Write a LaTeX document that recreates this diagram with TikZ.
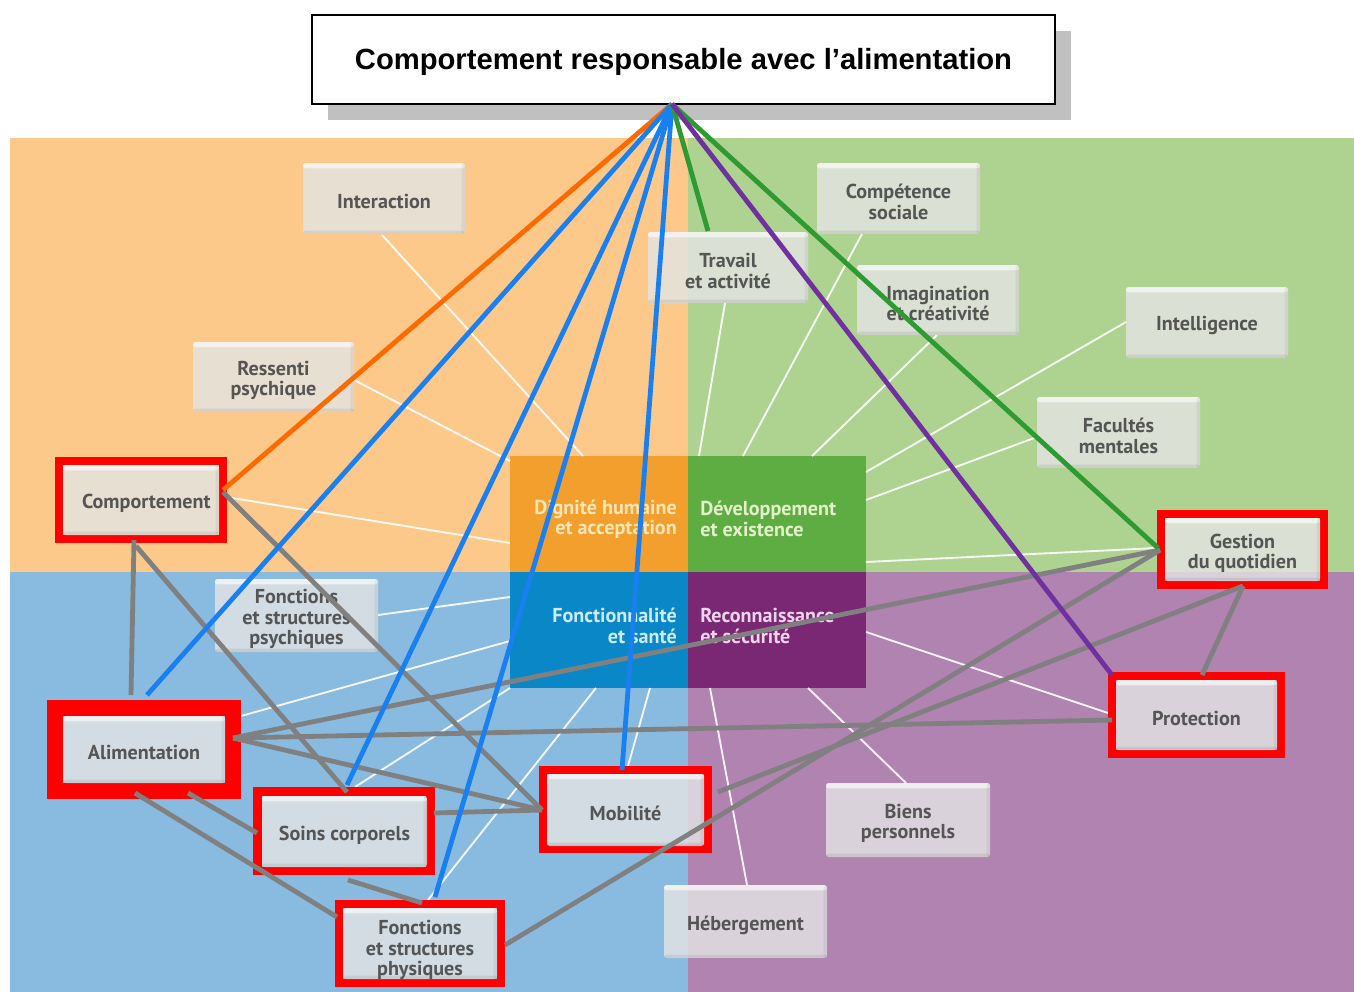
\documentclass[tikz,border=0pt]{standalone}
\usepackage{fontspec}
\setmainfont{PT Sans}
\newfontfamily\titlefont{Liberation Sans}
\definecolor{bgO}{HTML}{FDC98A}
\definecolor{bgG}{HTML}{AED28F}
\definecolor{bgB}{HTML}{89BBE0}
\definecolor{bgP}{HTML}{B083B0}
\definecolor{sqO}{HTML}{F39F2E}
\definecolor{sqG}{HTML}{5DAD42}
\definecolor{sqB}{HTML}{0A87C6}
\definecolor{sqP}{HTML}{7A2873}
\definecolor{txO}{HTML}{FCE5B5}
\definecolor{txG}{HTML}{E4F0CC}
\definecolor{txB}{HTML}{CDEBF7}
\definecolor{txP}{HTML}{EFD3EC}
\definecolor{lbltext}{HTML}{555555}
\definecolor{boxgray}{HTML}{E4E4E4}
\definecolor{redfr}{HTML}{FF0000}
\definecolor{lnorange}{HTML}{FF6A00}
\definecolor{lnblue}{HTML}{1A80F0}
\definecolor{lngreen}{HTML}{2E9A32}
\definecolor{lnpurple}{HTML}{7030A0}
\definecolor{lngray}{HTML}{808080}
\definecolor{shadowgray}{HTML}{C0C0C0}
\newcommand\lblfont{\fontsize{15.1pt}{15.2pt}\selectfont\bfseries}
\tikzset{
  bx/.style 2 args={minimum width=#1*0.75pt, minimum height=#2*0.75pt},
  lbl/.style={fill=boxgray, fill opacity=0.82, text opacity=1, text=lbltext,
    rounded corners=2pt, inner sep=0pt, align=center, font=\lblfont,
    path picture={
      \fill[white,opacity=0.6] (path picture bounding box.north west) rectangle ([yshift=-4pt]path picture bounding box.north east);
      \fill[black,opacity=0.07] (path picture bounding box.south west) rectangle ([yshift=2.5pt]path picture bounding box.south east);
      \fill[black,opacity=0.05] (path picture bounding box.north east) rectangle ([xshift=-2.5pt]path picture bounding box.south east);}},
  lbltxt/.style={text=lbltext, text opacity=1, fill opacity=1, inner sep=0pt, align=center, font=\lblfont},
  txt/.style={label={[lbltxt,yshift=-2.6pt]center:{#1}}},
  ctext/.style={inner sep=0pt, font=\lblfont},
  spoke/.style={white, opacity=0.9, line width=1.4pt},
  redframe/.style={draw=redfr, line width=#1*0.75pt},
  grayln/.style={lngray, line width=3.6pt},
  colln/.style={line width=3.6pt, draw=#1}
}
\begin{document}
\begin{tikzpicture}[x=0.75pt,y=-0.75pt]
\useasboundingbox (0,0) rectangle (1354,992);
\fill[white] (0,0) rectangle (1354,992);
% backgrounds
\fill[bgO] (10,138) rectangle (688,572);
\fill[bgG] (688,138) rectangle (1354,572);
\fill[bgB] (10,572) rectangle (688,992);
\fill[bgP] (688,572) rectangle (1354,992);
% central squares
\fill[sqO] (510,456) rectangle (688,572);
\fill[sqG] (688,456) rectangle (866,572);
\fill[sqB] (510,572) rectangle (688,688);
\fill[sqP] (688,572) rectangle (866,688);
\node[ctext, text=txO, anchor=east, align=right] (dign) at (677,519) {Dignité humaine\\et acceptation};
\node[ctext, text=txG, anchor=west, align=left] (dev) at (700,519) {Développement\\et existence};
\node[ctext, text=txB, anchor=east, align=right] (fonct) at (677,626) {Fonctionnalité\\et santé};
\node[ctext, text=txP, anchor=west, align=left] (reco) at (700,626) {Reconnaissance\\et sécurité};
% square edge points for spokes
\coordinate (sInter) at (583,456);
\coordinate (sRess) at (510,461);
\coordinate (sComp) at (510,543);
\coordinate (sFpsy) at (510,597);
\coordinate (sAlim) at (510,641);
\coordinate (sSoins) at (510,688);
\coordinate (sFphys) at (596,688);
\coordinate (sMob) at (650,688);
\coordinate (sHeb) at (710,688);
\coordinate (sBiens) at (808,688);
\coordinate (sProt) at (866,632);
\coordinate (sGest) at (866,562);
\coordinate (sFacul) at (866,500);
\coordinate (sIntel) at (866,472);
\coordinate (sImag) at (812,456);
\coordinate (sCompsoc) at (743,456);
\coordinate (sTrav) at (699,456);
% box edge points for spokes
\coordinate (eInter) at (382,235);
\coordinate (eRess) at (354,380);
\coordinate (eComp) at (226,497);
\coordinate (eFpsy) at (378,615);
\coordinate (eAlim) at (241,716);
\coordinate (eSoins) at (355,787);
\coordinate (eFphys) at (428,900);
\coordinate (eMob) at (628,766);
\coordinate (eHeb) at (747,885);
\coordinate (eBiens) at (906,783);
\coordinate (eProt) at (1108,713);
\coordinate (eGest) at (1157,548);
\coordinate (eFacul) at (1037,437);
\coordinate (eIntel) at (1126,322);
\coordinate (eImag) at (937,335);
\coordinate (eCompsoc) at (862,234);
\coordinate (eTrav) at (725,303);
\foreach \a in {Inter,Ress,Comp,Fpsy,Alim,Soins,Fphys,Mob,Heb,Biens,Prot,Gest,Facul,Intel,Imag,Compsoc,Trav}
  \draw[spoke] (e\a) -- (s\a);
% title
\fill[shadowgray] (328,31) rectangle (1071,120);
\node[draw=black, line width=1.4pt, fill=white, bx={743}{89},
  label={[inner sep=0pt, yshift=-2.2pt, font=\titlefont\fontsize{21.9pt}{26pt}\selectfont\bfseries]center:Comportement responsable avec l’alimentation}] (title) at (683.5,59.5) {};
\coordinate (apex) at (672,104);
% red frames
\draw[redframe=8] (59,461) rectangle (223,539);
\draw[redframe=16] (55,708) rectangle (233,791);
\draw[redframe=8.5] (257.5,791.5) rectangle (430.5,871);
\draw[redframe=8] (339,904) rectangle (501,983);
\draw[redframe=8] (543,770) rectangle (708,849);
\draw[redframe=8] (1161,514) rectangle (1324,585);
\draw[redframe=8] (1112,676) rectangle (1281,754);
% plain boxes
\node[lbl, bx={162}{71}, txt={Interaction}] (inter) at (384,198.5) {};
\node[lbl, bx={161}{70}, txt={Ressenti\\psychique}] (ress) at (273.5,377) {};
\node[lbl, bx={163}{71}, txt={Compétence\\sociale}] (compsoc) at (898.5,198.5) {};
\node[lbl, bx={160}{71}, txt={Travail\\et activité}] (trav) at (728,267.5) {};
\node[lbl, bx={162}{70}, txt={Imagination\\et créativité}] (imag) at (938,300) {};
\node[lbl, bx={162}{71}, txt={Intelligence}] (intel) at (1207,322.5) {};
\node[lbl, bx={163}{71}, txt={Facultés\\mentales}] (facul) at (1118.5,432.5) {};
\node[lbl, bx={163}{73}, txt={Fonctions\\et structures\\psychiques}] (fpsy) at (296.5,615.5) {};
\node[lbl, bx={164}{74}, txt={Biens\\personnels}] (biens) at (908,820) {};
\node[lbl, bx={163}{73}, txt={Hébergement}] (heb) at (745.5,921.5) {};
% framed boxes
\node[lbl, bx={156}{70}, label={[lbltxt,yshift=-2.6pt,xshift=4pt]center:Comportement}] (comport) at (141,500) {};
\node[lbl, bx={162}{67}, txt={Alimentation}] (alim) at (144,749.5) {};
\node[lbl, bx={165}{71}, txt={Soins corporels}] (soins) at (344.5,831.5) {};
\node[lbl, bx={154}{71}, label={[lbltxt,yshift=-4.9pt]center:{Fonctions\\et structures\\physiques}}] (fphys) at (420,943.5) {};
\node[lbl, bx={157}{72}, txt={Mobilité}] (mobil) at (625.5,810) {};
\node[lbl, bx={155}{63}, txt={Gestion\\du quotidien}] (gest) at (1242.5,549.5) {};
\node[lbl, bx={161}{70}, txt={Protection}] (prot) at (1196.5,715) {};
% gray connector end points
\coordinate (comportS1) at (134,540);
\coordinate (comportS2) at (136,546);
\coordinate (comportE) at (223,492);
\coordinate (alimN) at (131,695);
\coordinate (alimE) at (233,738);
\coordinate (alimS1) at (135,793);
\coordinate (alimS2) at (188,793);
\coordinate (soinsN) at (347,792);
\coordinate (soinsW) at (257,833);
\coordinate (soinsS) at (348,880);
\coordinate (soinsE) at (434,813);
\coordinate (fphysW) at (337,917);
\coordinate (fphysN) at (422,903);
\coordinate (fphysE) at (505,945);
\coordinate (mobilW) at (542,810);
\coordinate (mobilE) at (718,792);
\coordinate (gestW) at (1160,550);
\coordinate (gestS) at (1243,586);
\coordinate (protW) at (1112,720);
\coordinate (protN) at (1202,675);
\draw[grayln] (comportS1) -- (alimN);
\draw[grayln] (comportS2) -- (soinsN);
\draw[grayln] (comportE) -- (mobilW);
\draw[grayln] (alimE) -- (gestW);
\draw[grayln] (alimE) -- (protW);
\draw[grayln] (alimE) -- (mobilW);
\draw[grayln] (alimS1) -- (fphysW);
\draw[grayln] (alimS2) -- (soinsW);
\draw[grayln] (soinsS) -- (fphysN);
\draw[grayln] (soinsE) -- (mobilW);
\draw[grayln] (mobilE) -- (gestS);
\draw[grayln] (fphysE) -- (gestW);
\draw[grayln] (gestS) -- (protN);
% coloured connectors from the title
\coordinate (comportOr) at (223,490);
\coordinate (alimBl) at (147,695);
\coordinate (soinsBl) at (347,785);
\coordinate (fphysBl) at (435,897);
\coordinate (mobilBl) at (622,770);
\coordinate (travGr) at (708,231);
\coordinate (gestGr) at (1158,548);
\coordinate (protPu) at (1112,675);
\draw[colln=lnorange] (apex) -- (comportOr);
\draw[colln=lnblue] (apex) -- (alimBl);
\draw[colln=lnblue] (apex) -- (soinsBl);
\draw[colln=lnblue] (apex) -- (fphysBl);
\draw[colln=lnblue] (apex) -- (mobilBl);
\draw[colln=lngreen] (apex) -- (travGr);
\draw[colln=lngreen] (apex) -- (gestGr);
\draw[colln=lnpurple] (apex) -- (protPu);
\end{tikzpicture}
\end{document}
